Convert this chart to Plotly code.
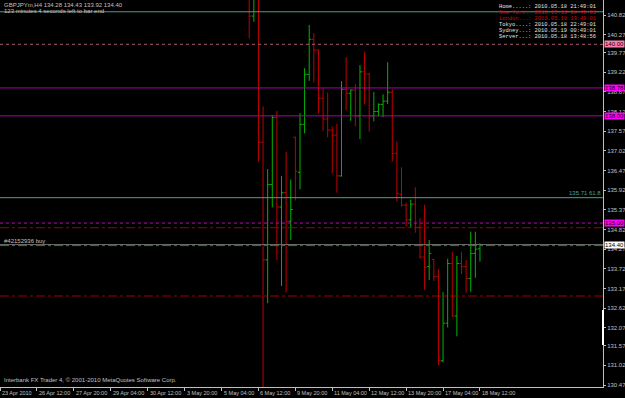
import plotly.graph_objects as go

# ---------------- data ----------------
# H4 bar index counted from 23 Apr 2010 00:00 (bars before 54 are above the visible range)
bar_index = list(range(54, 105))
opens = [141.50, 140.79, 141.45, 137.26, 133.97, 136.08, 137.95, 135.45, 135.85, 135.05,
         137.40, 136.42, 137.76, 139.16, 140.14, 139.84, 138.49, 137.91, 137.60, 137.46,
         136.32, 138.74, 138.63, 138.72, 138.00, 139.23, 139.17, 138.00, 138.12, 138.32,
         138.41, 138.66, 136.95, 135.80, 135.50, 135.09, 135.53, 134.88, 134.05, 133.78,
         133.98, 133.50, 131.15, 132.20, 133.87, 132.40, 133.87, 133.78, 133.45, 134.15,
         134.28]
highs = [141.80, 141.70, 141.75, 138.26, 136.51, 138.02, 138.14, 136.32, 136.99, 136.22,
         137.42, 138.07, 139.33, 140.54, 140.31, 139.86, 138.77, 138.65, 137.70, 137.77,
         138.97, 139.64, 138.74, 138.89, 139.42, 139.79, 139.19, 138.67, 138.35, 138.60,
         139.50, 138.74, 137.28, 136.56, 135.57, 135.65, 136.00, 135.13, 135.51, 134.53,
         134.00, 133.71, 133.07, 134.00, 134.19, 134.08, 134.20, 133.97, 134.76, 134.76,
         134.43]
lows = [140.17, 140.63, 136.72, 128.00, 132.76, 135.44, 133.97, 133.24, 133.06, 134.53,
        135.63, 135.94, 137.51, 138.98, 138.93, 138.07, 137.58, 137.40, 136.39, 135.85,
        136.30, 138.16, 137.86, 137.70, 137.35, 138.32, 137.56, 137.84, 137.98, 137.96,
        138.33, 136.72, 135.60, 135.46, 134.90, 134.87, 134.73, 134.00, 133.13, 133.41,
        133.38, 131.03, 131.10, 132.08, 132.38, 131.83, 133.57, 133.05, 133.08, 133.47,
        133.92]
closes = [140.79, 141.45, 137.26, 133.97, 136.08, 137.95, 135.45, 135.85, 135.05, 135.38,
          136.45, 137.76, 139.16, 140.14, 139.84, 138.49, 137.91, 137.60, 137.46, 136.32,
          138.74, 138.63, 138.72, 138.00, 139.23, 139.17, 138.00, 138.12, 138.32, 138.41,
          138.66, 136.95, 135.83, 135.50, 135.09, 135.53, 134.88, 134.05, 133.76, 134.15,
          133.50, 131.15, 132.20, 133.87, 132.40, 133.87, 133.78, 133.45, 134.15, 134.27,
          134.40]

x_tick_index = [0, 8, 16, 24, 32, 40, 48, 56, 64, 72, 80, 88, 96, 104]
x_tick_labels = ["23 Apr 2010", "26 Apr 12:00", "27 Apr 20:00", "29 Apr 04:00", "30 Apr 12:00",
                 "3 May 20:00", "5 May 04:00", "6 May 12:00", "9 May 20:00", "11 May 04:00",
                 "12 May 12:00", "13 May 20:00", "17 May 04:00", "18 May 12:00"]

y_tick_labels = ["140.82", "140.27", "139.77", "139.22", "138.67", "138.12", "137.57", "137.02",
                 "136.47", "135.92", "135.37", "134.82", "134.27", "133.72", "133.17", "132.62",
                 "132.07", "131.57", "131.02", "130.47"]

fibo_levels = [140.91, 135.71]
fibo_text = "135.71 61.8"
round_level_dashed = 140.00
magenta_levels = [138.78, 138.00]
magenta_dotted = 135.00
order_price = 134.37
order_label = "#42152936 buy"
sl_tp_levels = [134.87, 132.96]
bid_price = 134.40

symbol_line = "GBPJPYm,H4 134.28 134.43 133.92 134.40"
timer_line = "123 minutes 4 seconds left to bar end"
clock_lines = ["Home.....: 2010.05.18 21:49:01", "New York.: 2010.05.18 08:49:01",
               "London...: 2010.05.18 13:49:01", "Tokyo....: 2010.05.18 22:49:01",
               "Sydney...: 2010.05.19 00:49:01", "Server...: 2010.05.18 13:48:56"]
clock_colors = ["#e0e0e0", "#d00000", "#d00000", "#e0e0e0", "#e0e0e0", "#e0e0e0"]
copyright_text = "Interbank FX Trader 4, \u00a9 2001-2010 MetaQuotes Software Corp."

# ---------------- layout constants ----------------
W, H = 625, 398
PW, PH = 603, 387          # plot area size in px
Y_TOP, Y_BOT = 141.2396, 130.4145
X_MAX = 130.66
FONT = "Liberation Sans"
GREY = "#c0c0c0"


def py(pix):
    """pixel row inside the plot -> paper y"""
    return 1 - pix / PH


fig = go.Figure()
fig.add_trace(go.Ohlc(
    x=bar_index, open=opens, high=highs, low=lows, close=closes,
    increasing=dict(line=dict(color="#00b400", width=1)),
    decreasing=dict(line=dict(color="#c00000", width=1)),
    tickwidth=0.45, hoverinfo="skip", showlegend=False,
))

shapes = []


def hline(y, color, dash="solid", width=1):
    shapes.append(dict(type="line", xref="paper", x0=0, x1=1, yref="y", y0=y, y1=y,
                       line=dict(color=color, width=width, dash=dash), layer="above"))


for lv in fibo_levels:
    hline(lv, "#4aa08a")
hline(round_level_dashed, "#a85a70", dash="dot")
for lv in magenta_levels:
    hline(lv, "#a800a8")
hline(magenta_dotted, "#c000c0", dash="dot")
for lv in sl_tp_levels:
    hline(lv, "#a00000", dash="dashdot")
hline(bid_price, "#6a6a6a")
hline(order_price, "#00a000", dash="dashdot")
# white marker on price scale
shapes.append(dict(type="line", xref="paper", yref="paper", x0=1, x1=1, y0=py(310), y1=py(345),
                   line=dict(color="#ffffff", width=2)))

annotations = []
# x labels left-aligned at tick
for xi, lab in zip(x_tick_index, x_tick_labels):
    annotations.append(dict(x=xi, xref="x", y=py(393), yref="paper", text=lab, showarrow=False,
                            xanchor="left", yanchor="middle", xshift=0,
                            font=dict(family=FONT, size=5.5, color=GREY)))


def axis_box(y, text, bg, fg="#000000"):
    annotations.append(dict(x=1, xref="paper", y=y, yref="y", text=text, showarrow=False,
                            xanchor="left", yanchor="middle", xshift=1, bgcolor=bg,
                            borderpad=0, font=dict(family=FONT, size=6, color=fg)))


axis_box(round_level_dashed, f"{round_level_dashed:.2f}", "#ff80b0")
for lv in magenta_levels:
    axis_box(lv, f"{lv:.2f}", "#ff00ff")
axis_box(magenta_dotted, f"{magenta_dotted:.2f}", "#ff00ff")
axis_box(bid_price, f"{bid_price:.2f}", "#ffffff")

annotations.append(dict(x=1, xref="paper", y=fibo_levels[1], yref="y", text=fibo_text,
                        showarrow=False, xanchor="right", yanchor="bottom", yshift=0,
                        font=dict(family=FONT, size=6, color="#4aa08a")))
annotations.append(dict(x=0, xref="paper", y=order_price, yref="y", text=order_label,
                        showarrow=False, xanchor="left", yanchor="bottom", xshift=2,
                        font=dict(family=FONT, size=6, color=GREY)))
annotations.append(dict(x=0, xref="paper", y=py(5), yref="paper", text=symbol_line,
                        showarrow=False, xanchor="left", yanchor="middle", xshift=2,
                        font=dict(family=FONT, size=6, color=GREY)))
annotations.append(dict(x=0, xref="paper", y=py(11), yref="paper", text=timer_line,
                        showarrow=False, xanchor="left", yanchor="middle", xshift=2,
                        font=dict(family=FONT, size=6, color=GREY)))
annotations.append(dict(x=0, xref="paper", y=py(380), yref="paper", text=copyright_text,
                        showarrow=False, xanchor="left", yanchor="middle", xshift=2,
                        font=dict(family=FONT, size=6, color=GREY)))
for k, (txt, col) in enumerate(zip(clock_lines, clock_colors)):
    annotations.append(dict(x=497 / PW, xref="paper", y=py(7.3 + 5.88 * k), yref="paper",
                            text=txt, showarrow=False, xanchor="left", yanchor="middle",
                            font=dict(family="Liberation Mono", size=5.4, color=col)))

fig.update_layout(
    width=W, height=H, margin=dict(l=0, r=W - PW, t=0, b=H - PH),
    paper_bgcolor="#000000", plot_bgcolor="#000000", showlegend=False,
    shapes=shapes, annotations=annotations,
    xaxis=dict(range=[0, X_MAX], rangeslider=dict(visible=False), showgrid=False,
               zeroline=False, showline=True, linecolor=GREY, linewidth=1,
               tickmode="array", tickvals=x_tick_index, ticktext=[""] * len(x_tick_index),
               ticks="outside", ticklen=3, tickcolor=GREY, showticklabels=False),
    yaxis=dict(range=[Y_BOT, Y_TOP], side="right", showgrid=False, zeroline=False,
               showline=True, linecolor=GREY, linewidth=1, tickmode="array",
               tickvals=[float(t) for t in y_tick_labels], ticktext=y_tick_labels,
               ticks="outside", ticklen=2, tickcolor=GREY,
               tickfont=dict(family=FONT, size=6, color=GREY)),
)

fig.write_html("out.html")
